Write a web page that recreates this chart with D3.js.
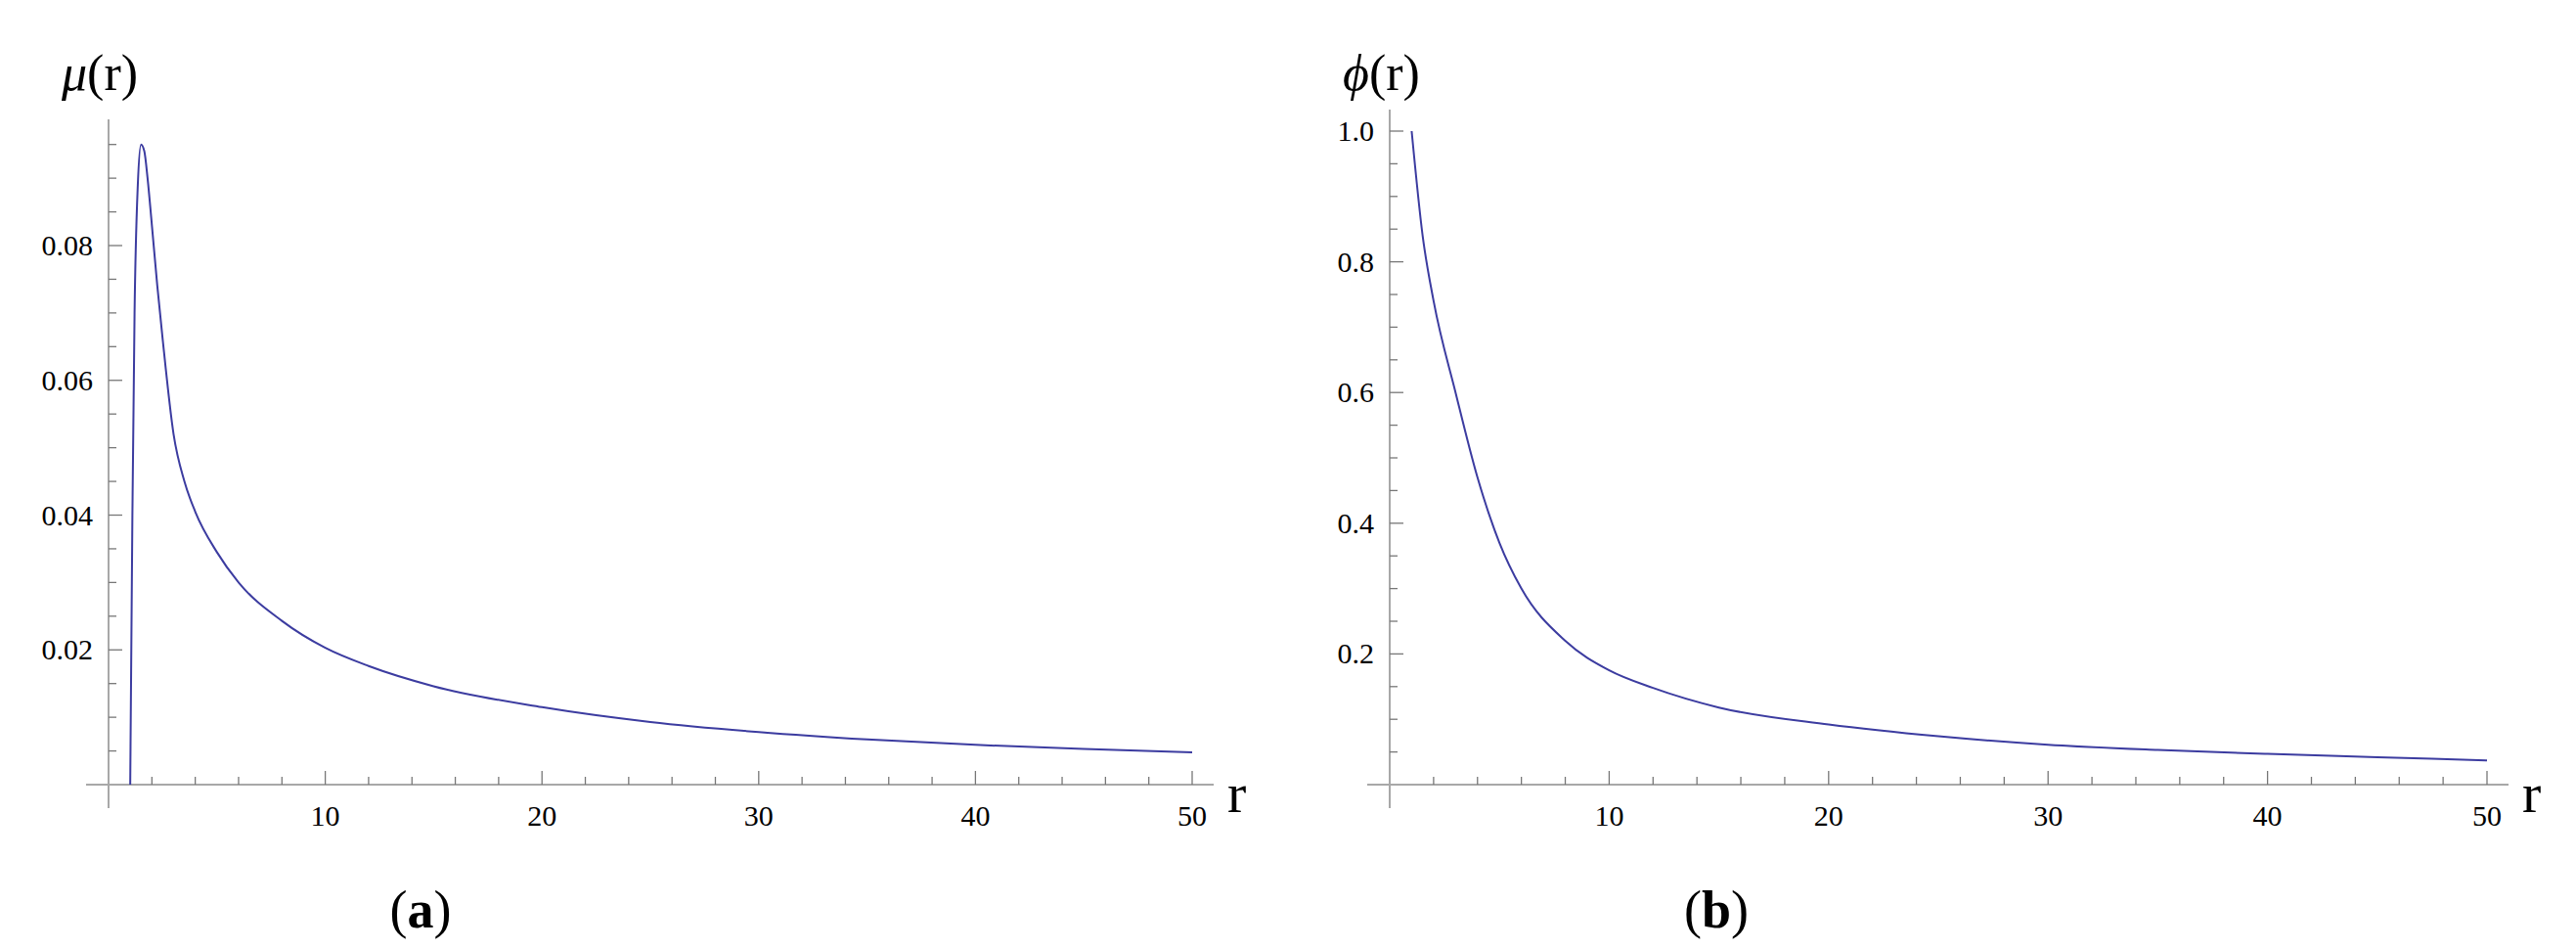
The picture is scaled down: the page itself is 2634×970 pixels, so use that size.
<!DOCTYPE html>
<html><head><meta charset="utf-8">
<script src="https://cdn.jsdelivr.net/npm/d3@7"></script>
<style>body{margin:0;background:#fff}</style>
</head><body>
<svg id="c" width="2634" height="970"></svg>
<script>
// values
var muR   = [1, 1.1, 1.2, 1.35, 1.5, 1.65, 1.8, 2, 2.25, 2.5, 3, 3.5, 4, 5, 6, 8, 10, 12, 15, 20, 25, 30, 35, 40, 45, 50];
var muVal = [0, 0.04, 0.07, 0.089, 0.095, 0.094, 0.09, 0.083, 0.074, 0.066, 0.052, 0.045, 0.0405, 0.0345, 0.030, 0.0243, 0.0203, 0.0176, 0.0146, 0.0115, 0.0093, 0.0078, 0.0067, 0.0059, 0.0053, 0.0048];
var phiR   = [1, 1.5, 2, 3, 4, 5, 6, 8, 10, 12, 15, 20, 25, 30, 35, 40, 45, 50];
var phiVal = [1.0, 0.84, 0.74, 0.60, 0.47, 0.37, 0.30, 0.22, 0.175, 0.148, 0.118, 0.092, 0.074, 0.061, 0.053, 0.047, 0.042, 0.037];
var xTicks = [10, 20, 30, 40, 50];
var muTicks = [0.02, 0.04, 0.06, 0.08];
var phiTicks = [0.2, 0.4, 0.6, 0.8, 1.0];

var svg = d3.select("#c");
var grey = "#a8a8a8";

function panel(o){
	var g = svg.append("g");
	var x = d3.scaleLinear().domain([0, 50]).range([o.x0, o.x50]);
	// o.yRef is the pixel of value o.vRef
	var y = d3.scaleLinear().domain([0, o.vRef]).range([o.y0, o.yRef]);
	var ymax = y.invert(o.yAxTop);

	g.append("line").attr("x1", o.xl).attr("x2", o.xr).attr("y1", o.y0).attr("y2", o.y0)
		.attr("stroke", grey).attr("stroke-width", 2);
	g.append("line").attr("x1", o.x0).attr("x2", o.x0).attr("y1", o.yAxTop).attr("y2", o.y0 + 24)
		.attr("stroke", grey).attr("stroke-width", 2);

	d3.range(2, 51, 2).forEach(function(t){
		var major = t % 10 == 0;
		g.append("line").attr("x1", x(t)).attr("x2", x(t))
			.attr("y1", o.y0).attr("y2", o.y0 - (major ? 14 : 8))
			.attr("stroke", "#777").attr("stroke-width", 1.3);
	});
	xTicks.forEach(function(t){
		g.append("text").attr("x", x(t)).attr("y", o.y0 + 42).attr("text-anchor", "middle")
			.attr("font-family", "Liberation Serif").attr("font-size", 30).text(t);
	});

	d3.range(o.minor, ymax, o.minor).forEach(function(t){
		var major = o.ticks.some(function(m){ return Math.abs(m - t) < 1e-9; });
		g.append("line").attr("x1", o.x0).attr("x2", o.x0 + (major ? 14 : 8))
			.attr("y1", y(t)).attr("y2", y(t))
			.attr("stroke", "#777").attr("stroke-width", 1.3);
	});
	o.ticks.forEach(function(t){
		g.append("text").attr("x", o.x0 - 16).attr("y", y(t) + 10).attr("text-anchor", "end")
			.attr("font-family", "Liberation Serif").attr("font-size", 30).text(o.fmt(t));
	});

	var line = d3.line().x(function(d){ return x(d[0]); }).y(function(d){ return y(d[1]); })
		.curve(d3.curveMonotoneX);
	g.append("path").datum(d3.zip(o.rs, o.vs)).attr("d", line)
		.attr("fill", "none").attr("stroke", "#3c3ca0").attr("stroke-width", 2);

	var yl = g.append("text").attr("x", o.x0 - 48).attr("y", 92)
		.attr("font-family", "Liberation Serif").attr("font-size", 52);
	yl.append("tspan").attr("font-style", "italic").text(o.sym);
	yl.append("tspan").text("(r)");
	g.append("text").attr("x", o.xr + 14).attr("y", o.y0 + 28)
		.attr("font-family", "Liberation Serif").attr("font-size", 58).text("r");
	var cap = g.append("text").attr("x", o.cap).attr("y", 948).attr("text-anchor", "middle")
		.attr("font-family", "Liberation Serif").attr("font-size", 54);
	cap.append("tspan").text("(");
	cap.append("tspan").attr("font-weight", "bold").text(o.letter);
	cap.append("tspan").text(")");
}

panel({x0: 111, x50: 1219, xl: 88, xr: 1241, y0: 802, vRef: 0.08, yRef: 251,
	yAxTop: 122, ticks: muTicks, minor: 0.005, fmt: d3.format(".2f"), rs: muR, vs: muVal,
	sym: "\u03bc", letter: "a", cap: 430});
panel({x0: 1421, x50: 2543, xl: 1398, xr: 2565, y0: 802, vRef: 1.0, yRef: 134,
	yAxTop: 112, ticks: phiTicks, minor: 0.05, fmt: d3.format(".1f"), rs: phiR, vs: phiVal,
	sym: "\u03d5", letter: "b", cap: 1755});
</script>
</body></html>
